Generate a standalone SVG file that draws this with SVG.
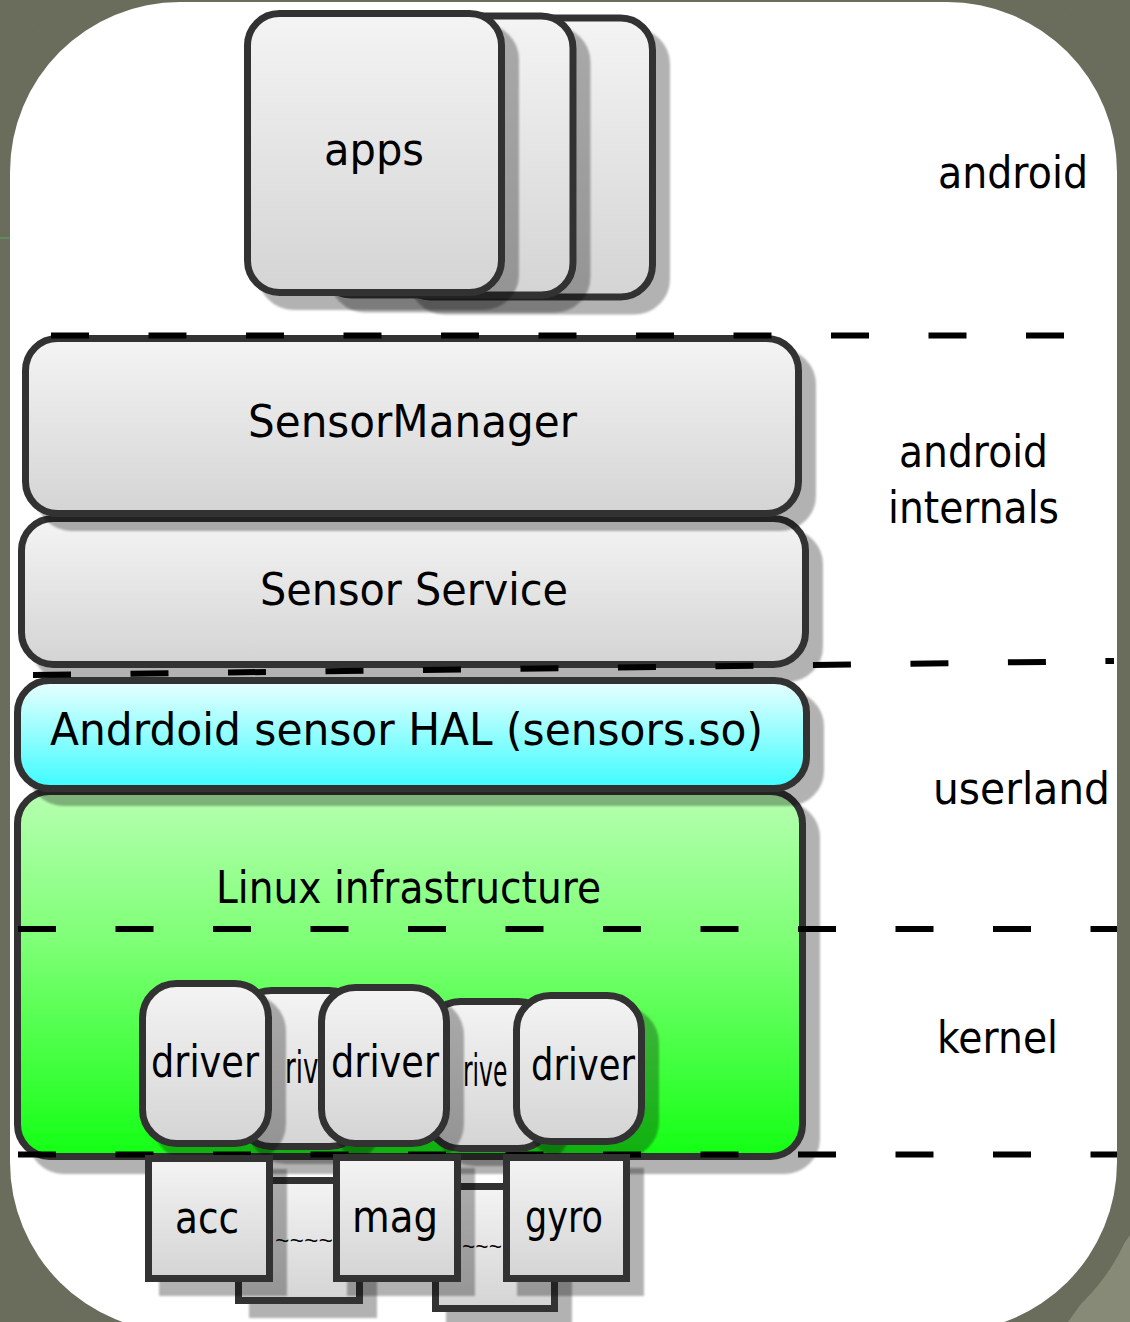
<svg xmlns="http://www.w3.org/2000/svg" width="1130" height="1322" viewBox="0 0 1130 1322">
<defs>
<linearGradient id="gGray" x1="0" y1="0" x2="0" y2="1"><stop offset="0" stop-color="#f4f4f4"/><stop offset="1" stop-color="#d4d4d4"/></linearGradient>
<linearGradient id="gCyan" x1="0" y1="0" x2="0" y2="1"><stop offset="0" stop-color="#eaffff"/><stop offset="1" stop-color="#3cfcff"/></linearGradient>
<linearGradient id="gGreen" x1="0" y1="0" x2="0" y2="1"><stop offset="0" stop-color="#b6ffb0"/><stop offset="0.4" stop-color="#80ff78"/><stop offset="1" stop-color="#14ff14"/></linearGradient>
<filter id="sh" x="-10%" y="-10%" width="130%" height="130%"><feDropShadow dx="14" dy="14" stdDeviation="1.2" flood-color="#000" flood-opacity="0.3"/></filter>
</defs>
<style>
.box{stroke:#333;stroke-width:7;filter:url(#sh)}
.gray{fill:url(#gGray)}
.lbl{font-family:"DejaVu Sans","Liberation Sans",sans-serif;font-size:45px;fill:#000}
.dash{stroke:#000;stroke-width:6;stroke-dasharray:38 59.5;fill:none}
.tl{font-family:"Liberation Mono",monospace;font-size:22px;fill:#000}
</style>
<!-- background -->
<rect x="0" y="0" width="1130" height="1322" fill="#6a6c5c"/>
<path d="M1130 1235 L1130 1322 L1068 1322 Z" fill="#878a76"/>
<rect x="-20" y="-30" width="1162" height="1387" rx="195" fill="#6a6c5c"/>
<rect x="10" y="2" width="1107" height="1330" rx="170" fill="#fff"/>
<line x1="0" y1="238" x2="10" y2="238" stroke="#5f8c5f" stroke-width="2"/>

<g id="apps">
<rect class="box gray" x="398.5" y="18" width="254" height="279" rx="32"/>
<rect class="box gray" x="319" y="16" width="254" height="279" rx="32"/>
<rect class="box gray" x="247.5" y="13.5" width="254" height="279" rx="32"/>
<text class="lbl" x="324" y="165" textLength="100" lengthAdjust="spacingAndGlyphs">apps</text>
</g>

<g id="linux">
<rect class="box" fill="url(#gGreen)" x="17.5" y="791.5" width="785" height="365" rx="32"/>
<text class="lbl" x="216" y="903" textLength="385" lengthAdjust="spacingAndGlyphs">Linux infrastructure</text>
</g>
<g id="sensorservice">
<rect class="box gray" x="21.5" y="518.5" width="784" height="146" rx="32"/>
<text class="lbl" x="260" y="605" textLength="308" lengthAdjust="spacingAndGlyphs">Sensor Service</text>
</g>
<g id="hal">
<rect class="box" fill="url(#gCyan)" x="17.5" y="680.5" width="789" height="108" rx="32"/>
<text class="lbl" x="50" y="745" textLength="713" lengthAdjust="spacingAndGlyphs">Andrdoid sensor HAL (sensors.so)</text>
</g>
<g id="sensormanager">
<rect class="box gray" x="25.5" y="338.5" width="773" height="175" rx="32"/>
<text class="lbl" x="248" y="437" textLength="329" lengthAdjust="spacingAndGlyphs">SensorManager</text>
</g>

<g id="layers">
<line class="dash" x1="51" y1="335.5" x2="1066" y2="335.5"/>
<line class="dash" x1="33" y1="675" x2="1114" y2="661"/>
<line class="dash" x1="18" y1="929" x2="1117" y2="929"/>
<line class="dash" x1="18" y1="1154.5" x2="1117" y2="1154.5"/>
<text class="lbl" x="938" y="188" textLength="150" lengthAdjust="spacingAndGlyphs">android</text>
<text class="lbl" x="899" y="467" textLength="149" lengthAdjust="spacingAndGlyphs">android</text>
<text class="lbl" x="888" y="523" textLength="171" lengthAdjust="spacingAndGlyphs">internals</text>
<text class="lbl" x="933" y="804" textLength="177" lengthAdjust="spacingAndGlyphs">userland</text>
<text class="lbl" x="937" y="1053" textLength="121" lengthAdjust="spacingAndGlyphs">kernel</text>
</g>

<g id="driver-hidden-2">
<rect class="box gray" x="426.5" y="1001.5" width="126" height="147" rx="34"/>
<text class="lbl" transform="translate(463 1086) scale(0.52 1)" x="0" y="0">rive</text>
</g>
<g id="driver-hidden-1">
<rect class="box gray" x="237.5" y="990.5" width="126" height="156" rx="34"/>
<text class="lbl" transform="translate(285 1083) scale(0.58 1)" x="0" y="0">riv</text>
</g>
<g id="driver-1">
<rect class="box gray" x="142.5" y="983.5" width="126" height="160" rx="34"/>
<text class="lbl" x="151" y="1077" textLength="108" lengthAdjust="spacingAndGlyphs">driver</text>
</g>
<g id="driver-2">
<rect class="box gray" x="321.5" y="987.5" width="125" height="156" rx="34"/>
<text class="lbl" x="331" y="1077" textLength="108" lengthAdjust="spacingAndGlyphs">driver</text>
</g>
<g id="driver-3">
<rect class="box gray" x="516.5" y="995.5" width="125" height="146" rx="34"/>
<text class="lbl" x="531" y="1080" textLength="104" lengthAdjust="spacingAndGlyphs">driver</text>
</g>

<g id="sensor-hidden-1">
<rect class="box gray" x="238.5" y="1180.5" width="121" height="120"/>
<text class="tl" x="275" y="1248" textLength="58" lengthAdjust="spacingAndGlyphs">~~~~</text>
</g>
<g id="sensor-hidden-2">
<rect class="box gray" x="435.5" y="1186.5" width="119" height="122"/>
<text class="tl" x="462" y="1254" textLength="40" lengthAdjust="spacingAndGlyphs">~~~</text>
</g>
<g id="acc">
<rect class="box gray" x="148.5" y="1158.5" width="121" height="120"/>
<text class="lbl" x="175" y="1233" textLength="64" lengthAdjust="spacingAndGlyphs">acc</text>
</g>
<g id="mag">
<rect class="box gray" x="336.5" y="1157.5" width="121" height="121"/>
<text class="lbl" x="352" y="1232" textLength="86" lengthAdjust="spacingAndGlyphs">mag</text>
</g>
<g id="gyro">
<rect class="box gray" x="506.5" y="1157.5" width="120" height="121"/>
<text class="lbl" x="525" y="1232" textLength="78" lengthAdjust="spacingAndGlyphs">gyro</text>
</g>
</svg>
